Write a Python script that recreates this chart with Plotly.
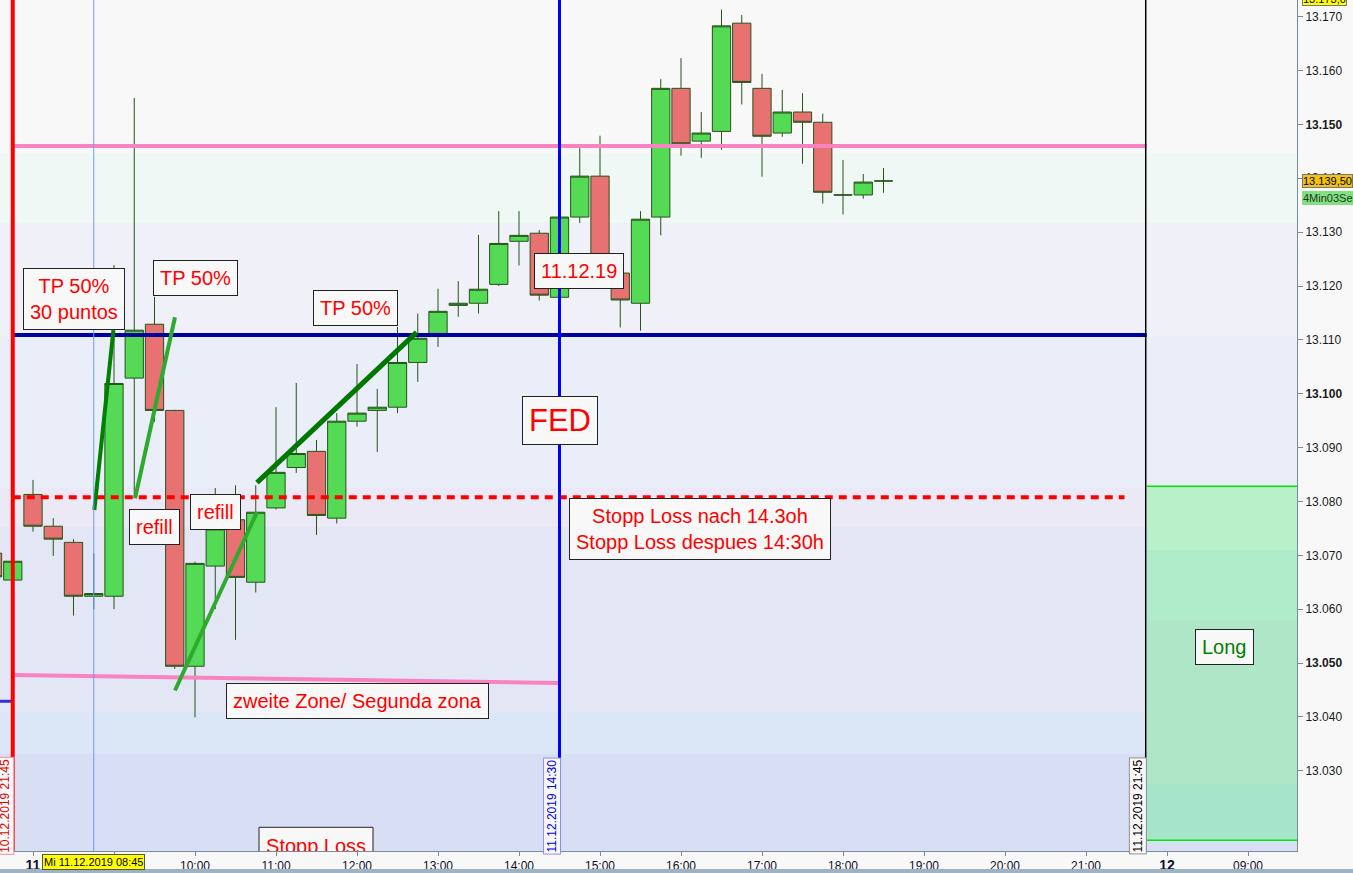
import plotly.graph_objects as go

# ---------------- data ----------------
slots = list(range(-2, 43))  # 15-minute slots, slot 0 = 11.12.2019 08:00
opens = [13070.4, 13065.4, 13081.3, 13075.4, 13072.4, 13062.4, 13062.4, 13102.9, 13112.9, 13096.9,
         13049.4, 13068.0, 13076.6, 13065.0, 13078.8, 13086.3, 13089.3, 13076.9, 13094.9, 13096.9,
         13097.5, 13105.8, 13111.2, 13116.4, 13116.8, 13120.3, 13128.3, 13129.8, 13117.9, 13132.8,
         13140.4, 13122.4, 13116.8, 13132.8, 13156.7, 13146.9, 13148.7, 13168.8, 13156.7, 13148.4,
         13152.3, 13150.4, 13136.9, 13136.9, 13139.5]
highs = [13073.4, 13070.0, 13084.0, 13076.9, 13073.0, 13070.4, 13123.9, 13154.9, 13118.0, 13097.0,
         13068.8, 13082.5, 13083.0, 13083.0, 13097.5, 13102.0, 13091.4, 13096.4, 13105.5, 13100.9,
         13112.4, 13114.9, 13119.5, 13120.9, 13129.5, 13133.9, 13133.9, 13130.4, 13133.0, 13145.6,
         13147.9, 13124.0, 13133.9, 13158.4, 13162.3, 13152.3, 13171.3, 13170.3, 13159.4, 13156.4,
         13155.8, 13152.0, 13143.4, 13140.8, 13141.9]
lows = [13065.0, 13064.0, 13074.4, 13069.9, 13058.8, 13060.0, 13060.0, 13080.6, 13094.8, 13048.9,
        13039.9, 13060.0, 13054.3, 13063.1, 13078.5, 13085.3, 13073.8, 13075.9, 13093.9, 13089.2,
        13096.4, 13102.2, 13108.7, 13114.3, 13114.9, 13120.0, 13123.8, 13117.3, 13117.7, 13131.7,
        13124.0, 13112.3, 13111.7, 13129.4, 13144.2, 13143.8, 13145.3, 13153.7, 13140.3, 13147.7,
        13142.7, 13135.3, 13133.3, 13136.2, 13137.3]
closes = [13066.0, 13068.9, 13075.4, 13073.0, 13062.4, 13062.9, 13101.9, 13111.8, 13096.9, 13049.4,
          13068.5, 13074.9, 13065.9, 13078.0, 13085.4, 13088.9, 13077.4, 13094.9, 13096.4, 13097.5,
          13105.8, 13110.3, 13115.3, 13116.8, 13119.4, 13127.9, 13129.4, 13118.3, 13132.8, 13140.4,
          13125.0, 13117.4, 13132.4, 13156.7, 13146.4, 13148.4, 13168.3, 13157.8, 13147.8, 13152.3,
          13150.4, 13137.4, 13136.9, 13139.3, 13139.5]

big = "<span style='font-size:14px'><b>%s</b></span>"
time_tick_slots = [0, 4, 8, 12, 16, 20, 24, 28, 32, 36, 40, 44, 48, 52, 56, 60]
time_tick_labels = [big % "11", "", "10:00", "11:00", "12:00", "13:00", "14:00", "15:00",
                    "16:00", "17:00", "18:00", "19:00", "20:00", "21:00", big % "12", "09:00"]

price_ticks = list(range(13030, 13171, 10))
bold_prices = [13050, 13100, 13150]
price_labels = [("<b>%d.%03d</b>" if v in bold_prices else "%d.%03d") % (v // 1000, v % 1000)
                for v in price_ticks]

zone_level = 13146.0      # pink line
tp_level = 13110.9        # navy line
stop_level = 13080.8      # red dotted line
long_top, long_bottom = 13082.8, 13017.1
last_price = 13139.5

# ---------------- figure ----------------
fig = go.Figure()

fig.add_trace(go.Candlestick(
    x=slots, open=opens, high=highs, low=lows, close=closes,
    increasing=dict(fillcolor="#55da55", line=dict(color="#25531a", width=1)),
    decreasing=dict(fillcolor="#e87272", line=dict(color="#25531a", width=1)),
    whiskerwidth=0, showlegend=False, hoverinfo="skip"))

# clipped "Stopp Loss" text at the bottom of the pane
fig.add_trace(go.Scatter(
    x=[13.98], y=[13015.6], mode="text", text=["Stopp Loss"],
    textfont=dict(family="Liberation Sans, Arial", size=20, color="#ff0000"),
    textposition="middle center", cliponaxis=True, showlegend=False, hoverinfo="skip"))

shapes = []
# background bands
bands = [(13144.7, 13200, "#f8f8f8"), (13131.7, 13144.7, "#f0f8f6"), (13110.7, 13131.7, "#f0f0f8"),
         (13082.5, 13110.7, "#e9eef8"), (13075.4, 13082.5, "#ece9f6"), (13040.7, 13075.4, "#e3e7f5"),
         (13033.1, 13040.7, "#dbe7f6"), (13000, 13033.1, "#d8dff5")]
for y0, y1, c in bands:
    shapes.append(dict(type="rect", xref="paper", yref="y", x0=0, x1=1, y0=y0, y1=y1,
                       fillcolor=c, line=dict(width=0), layer="below"))
# long zone
long_bands = [(13071.0, long_top, "#b9f0c9"), (13058.0, 13071.0, "#aeebc9"),
              (13027.7, 13058.0, "#b0e6c8"), (long_bottom, 13027.7, "#a6e5c9")]
for y0, y1, c in long_bands:
    shapes.append(dict(type="rect", xref="x", yref="y", x0=55, x1=63, y0=y0, y1=y1,
                       fillcolor=c, line=dict(width=0), layer="below"))
for yv in (long_top, long_bottom):
    shapes.append(dict(type="line", xref="x", yref="y", x0=55, x1=63, y0=yv, y1=yv,
                       line=dict(color="#00e600", width=1.5), layer="below"))
# Stopp Loss box (clipped)
shapes.append(dict(type="rect", xref="x", yref="y", x0=11.16, x1=16.79, y0=13005, y1=13019.5,
                   fillcolor="#f8f8f8", line=dict(color="#222222", width=1), layer="below"))

# horizontal levels
shapes += [
    dict(type="line", xref="x", yref="y", x0=-1, x1=55, y0=zone_level, y1=zone_level,
         line=dict(color="#f883c0", width=4)),
    dict(type="line", xref="x", yref="y", x0=-1, x1=55, y0=tp_level, y1=tp_level,
         line=dict(color="#00009c", width=4)),
    dict(type="line", xref="x", yref="y", x0=-1, x1=53.9, y0=stop_level, y1=stop_level,
         line=dict(color="#ff0000", width=4, dash="8px,6px")),
    dict(type="line", xref="x", yref="y", x0=-1, x1=26, y0=13047.8, y1=13046.3,
         line=dict(color="#f883c0", width=4)),
    dict(type="line", xref="x", yref="y", x0=-1.7, x1=-1, y0=13042.9, y1=13042.9,
         line=dict(color="#3333cc", width=3)),
]
# trend lines
shapes += [
    dict(type="line", xref="x", yref="y", x0=3.03, y0=13078.4, x1=3.97, y1=13111.8,
         line=dict(color="#008000", width=4)),
    dict(type="line", xref="x", yref="y", x0=5.04, y0=13080.6, x1=7.01, y1=13114.2,
         line=dict(color="#2eaa2e", width=4)),
    dict(type="line", xref="x", yref="y", x0=7.01, y0=13044.9, x1=11.06, y1=13078.0,
         line=dict(color="#2eaa2e", width=4)),
    dict(type="line", xref="x", yref="y", x0=11.06, y0=13083.5, x1=18.94, y1=13111.4,
         line=dict(color="#007800", width=5)),
]
# vertical lines
shapes += [
    dict(type="line", xref="x", yref="paper", x0=3, x1=3, y0=0, y1=1,
         line=dict(color="#6f9af5", width=1)),
    dict(type="line", xref="x", yref="paper", x0=-1, x1=-1, y0=0, y1=1,
         line=dict(color="#ff0000", width=4)),
    dict(type="line", xref="x", yref="paper", x0=26, x1=26, y0=0, y1=1,
         line=dict(color="#0000ff", width=3)),
    dict(type="line", xref="x", yref="paper", x0=54.95, x1=54.95, y0=0, y1=1,
         line=dict(color="#000000", width=1.5)),
]
# bottom strip of window
shapes.append(dict(type="rect", xref="paper", yref="paper", x0=0, x1=1.05, y0=-0.0259, y1=-0.0212,
                   fillcolor="#9db3c3", line=dict(width=0)))

box = dict(bgcolor="#f8f8f8", bordercolor="#222222", borderwidth=1, borderpad=6,
           showarrow=False, xref="x", yref="y")
red_font = dict(family="Liberation Sans, Arial", size=20, color="#ff0000")
annotations = [
    dict(text="TP 50%<br>30 puntos", x=2.02, y=13117.6, font=red_font, **box),
    dict(text="TP 50%", x=8.0, y=13121.5, font=red_font, **box),
    dict(text="refill", x=6.02, y=13075.3, font=red_font, **box),
    dict(text="refill", x=8.99, y=13078.0, font=red_font, **box),
    dict(text="TP 50%", x=15.95, y=13115.9, font=red_font, **box),
    dict(text="11.12.19", x=26.96, y=13122.8, font=red_font, **box),
    dict(text="FED", x=26.02, y=13095.1, font=dict(family="Liberation Sans, Arial", size=31, color="#ff0000"), **box),
    dict(text="Stopp Loss nach 14.3oh<br>Stopp Loss despues 14:30h", x=32.94, y=13074.9, font=red_font, **box),
    dict(text="zweite Zone/ Segunda zona", x=16.0, y=13042.9, font=red_font, **box),
    dict(text="Long", x=58.86, y=13053.0, font=dict(family="Liberation Sans, Arial", size=20, color="#008000"), **box),
]
# rotated date labels
vfont = dict(family="Liberation Sans, Arial", size=12)
annotations += [
    dict(text="10.12.2019 21:45", x=-1.38, y=13023.5, textangle=-90, font=dict(vfont, color="#e00000"),
         bgcolor="#f8f8f8", bordercolor="#f09090", borderwidth=1, borderpad=1, showarrow=False, xref="x", yref="y"),
    dict(text="11.12.2019 14:30", x=25.62, y=13023.5, textangle=-90, font=dict(vfont, color="#0000e0"),
         bgcolor="#f8f8f8", bordercolor="#9090f0", borderwidth=1, borderpad=1, showarrow=False, xref="x", yref="y"),
    dict(text="11.12.2019 21:45", x=54.55, y=13023.5, textangle=-90, font=dict(vfont, color="#000000"),
         bgcolor="#f8f8f8", bordercolor="#909090", borderwidth=1, borderpad=1, showarrow=False, xref="x", yref="y"),
]
# crosshair date label on the time axis
annotations.append(dict(text="Mi 11.12.2019 08:45", x=3, y=-0.0135, xref="x", yref="paper",
                        xanchor="center", yanchor="middle",
                        font=dict(family="Liberation Sans, Arial", size=11, color="#000000"),
                        bgcolor="#ffff00", bordercolor="#555555", borderwidth=1, borderpad=1,
                        showarrow=False))
# price axis labels
annotations += [
    dict(text="13.139,50", x=1.0035, y=last_price, xref="paper", yref="y", xanchor="left", yanchor="middle",
         font=dict(family="Liberation Sans, Arial", size=11, color="#000000"),
         bgcolor="#f5c211", bordercolor="#777777", borderwidth=1, borderpad=0, showarrow=False),
    dict(text="4Min03Sek", x=1.0035, y=13136.4, xref="paper", yref="y", xanchor="left", yanchor="middle",
         font=dict(family="Liberation Sans, Arial", size=11, color="#1a3a1a"),
         bgcolor="#84df84", borderwidth=0, borderpad=1, showarrow=False),
    dict(text="13.173,0", x=1.0035, y=1.0015, xref="paper", yref="paper", xanchor="left", yanchor="middle",
         font=dict(family="Liberation Sans, Arial", size=11, color="#000000"),
         bgcolor="#ffff00", bordercolor="#777777", borderwidth=1, borderpad=0, showarrow=False),
]

fig.update_layout(
    width=1353, height=873,
    margin=dict(l=0, r=56, t=0, b=22, pad=0),
    paper_bgcolor="#f8f8f8", plot_bgcolor="#f8f8f8",
    shapes=shapes, annotations=annotations,
    boxgap=0.05, boxgroupgap=0.05,
    showlegend=False,
    xaxis=dict(range=[-1.63, 62.42], rangeslider=dict(visible=False), showgrid=False, zeroline=False,
               tickmode="array", tickvals=time_tick_slots, ticktext=time_tick_labels,
               ticks="outside", ticklen=4, tickcolor="#7a8a99",
               showline=True, linecolor="#7a8a99", linewidth=1,
               tickfont=dict(family="Liberation Sans, Arial", size=12, color="#10102a")),
    yaxis=dict(range=[13015.1, 13173.1], side="right", showgrid=False, zeroline=False,
               tickmode="array", tickvals=price_ticks, ticktext=price_labels,
               ticks="outside", ticklen=5, tickcolor="#7a8a99",
               showline=True, linecolor="#7a8a99", linewidth=1,
               tickfont=dict(family="Liberation Sans, Arial", size=12, color="#1a1a1a")),
)

fig.write_html("out.html", config={"displayModeBar": False},
               post_script="document.body.style.margin='0';document.body.style.overflow='hidden';")
